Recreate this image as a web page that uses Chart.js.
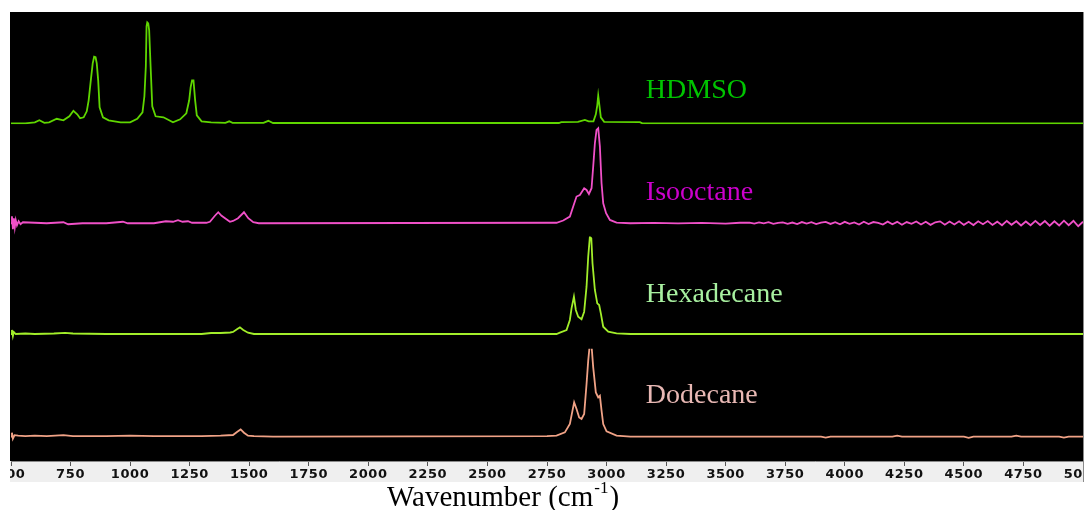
<!DOCTYPE html>
<html>
<head>
<meta charset="utf-8">
<title>IR spectra</title>
<script src="https://cdn.jsdelivr.net/npm/chart.js@4/dist/chart.umd.min.js"></script>
<style>
  html, body { margin: 0; padding: 0; background: #ffffff; }
  #wrap { width: 1086px; height: 510px; }
</style>
</head>
<body>
<div id="wrap"><canvas id="spec" width="1086" height="510"></canvas></div>
<script>
// Wavenumber axis (cm-1)
const xMin = 500;
const xMax = 5000;
const xStep = 250;

// Sample names, top to bottom
const names = ['HDMSO', 'Isooctane', 'Hexadecane', 'Dodecane'];

// HDMSO spectrum: wavenumber / intensity (a.u.)
const hdmsoWn = [500, 560, 600, 619, 640, 660, 692, 720, 745, 762, 778, 790, 805, 818, 826, 835, 843, 849, 855, 860, 866, 872, 886, 910, 960,
  1000, 1030, 1052, 1060, 1066, 1069, 1072, 1076, 1080, 1086, 1093, 1107, 1140, 1180, 1210, 1236, 1248, 1254, 1260, 1266, 1273, 1280,
  1300, 1340, 1400, 1416, 1430, 1560, 1580, 1600, 2800, 2810, 2880, 2909, 2925, 2945, 2955, 2961, 2965, 2970, 2976, 2990, 3140, 3150, 5000];
const hdmsoVal = [0, 0, 0.01, 0.03, 0.005, 0.01, 0.045, 0.03, 0.07, 0.125, 0.09, 0.05, 0.06, 0.12, 0.23, 0.43, 0.6, 0.665, 0.66, 0.6, 0.43, 0.16, 0.06, 0.03, 0.01,
  0.01, 0.045, 0.11, 0.27, 0.57, 0.97, 1.01, 1.0, 0.93, 0.57, 0.17, 0.07, 0.06, 0.01, 0.04, 0.1, 0.23, 0.36, 0.43, 0.43, 0.23, 0.08,
  0.02, 0.01, 0.005, 0.02, 0.005, 0.005, 0.025, 0.003, 0.003, 0.012, 0.015, 0.034, 0.02, 0.02, 0.09, 0.18, 0.277, 0.18, 0.06, 0.015, 0.012, 0, 0];

// Isooctane spectrum
const isoWn = [500, 504, 508, 512, 516, 520, 525, 532, 540, 550, 600, 650, 720, 740, 800, 900, 970, 990, 1100, 1150, 1180, 1201, 1220, 1243, 1260,
  1320, 1335, 1356, 1370, 1384, 1419, 1432, 1453, 1478, 1496, 1517, 1540, 2790, 2818, 2846, 2860, 2874, 2888, 2906, 2916, 2926, 2937, 2944,
  2951, 2958, 2965, 2972, 2979, 2986, 2998, 3014, 3042, 3100, 3200, 3300, 3400, 3500, 3560,
  3600, 3620, 3640, 3660, 3680, 3700, 3720, 3740, 3760, 3780, 3800, 3820, 3840, 3860, 3880, 3900, 3920, 3940, 3960, 3980,
  4000, 4020, 4040, 4060, 4080, 4100, 4120, 4140, 4160, 4180, 4200, 4220, 4240, 4260, 4280, 4300, 4320, 4340, 4360, 4380,
  4400, 4420, 4440, 4460, 4480, 4500, 4520, 4540, 4560, 4580, 4600, 4620, 4640, 4660, 4680, 4700, 4720, 4740, 4760, 4780,
  4800, 4820, 4840, 4860, 4880, 4900, 4920, 4940, 4960, 4980, 5000];
const isoVal = [0, 0.07, -0.06, 0.05, -0.04, 0.03, -0.02, 0.02, -0.01, 0.01, 0.005, 0, 0.01, -0.01, 0, 0, 0.015, 0, 0, 0.02, 0.015, 0.03, 0.015, 0.02, 0.005,
  0.005, 0.015, 0.075, 0.11, 0.075, 0.015, 0.023, 0.05, 0.11, 0.05, 0.01, 0, 0.005, 0.027, 0.067, 0.167, 0.267, 0.283, 0.35, 0.333, 0.293, 0.35, 0.567,
  0.8, 0.933, 0.95, 0.767, 0.4, 0.2, 0.1, 0.033, 0.007, 0, 0.003, -0.002, 0.004, -0.003, 0.005,
  0.006, -0.004, 0.008, -0.002, 0.01, -0.006, 0.004, 0.009, -0.005, 0.007, -0.008, 0.012, -0.004, 0.01, -0.009, 0.006, 0.013, -0.007, 0.011, -0.01,
  0.014, -0.006, 0.009, -0.012, 0.015, -0.008, 0.012, 0.004, -0.013, 0.016, -0.01, 0.014, -0.015, 0.012, -0.006, 0.018, -0.012, 0.015, -0.016, 0.01,
  0.019, -0.014, 0.017, -0.012, 0.02, -0.016, 0.014, -0.018, 0.02, -0.01, 0.022, -0.017, 0.016, -0.02, 0.023, -0.015, 0.02, -0.022, 0.018, -0.02,
  0.024, -0.018, 0.022, -0.024, 0.02, -0.022, 0.026, -0.02, 0.024, -0.03, 0.015];

// Hexadecane spectrum
const hexWn = [500, 504, 508, 512, 520, 560, 600, 680, 727, 760, 900, 1300, 1340, 1380, 1420, 1432, 1450, 1461, 1475, 1495, 1520, 2790,
  2804, 2832, 2846, 2853, 2863, 2871, 2881, 2895, 2906, 2916, 2923, 2930, 2936, 2941, 2951, 2961, 2969, 2976, 2986, 3007, 3042, 3100, 5000];
const hexVal = [0, 0.04, -0.02, 0.02, 0, 0.005, 0, 0.005, 0.012, 0.005, 0, 0, 0.01, 0.01, 0.015, 0.02, 0.05, 0.066, 0.04, 0.013, 0, 0,
  0.013, 0.04, 0.14, 0.257, 0.373, 0.24, 0.173, 0.147, 0.223, 0.473, 0.773, 0.973, 0.957, 0.707, 0.44, 0.307, 0.29, 0.207, 0.073, 0.023, 0.007, 0, 0];

// Dodecane spectrum
const dodWn = [500, 504, 508, 515, 530, 560, 600, 650, 720, 760, 900, 1000, 1100, 1300, 1380, 1432, 1450, 1464, 1478, 1495, 1520, 1600, 2750,
  2790, 2825, 2846, 2857, 2864, 2874, 2885, 2895, 2906, 2916, 2923, 2930, 2937, 2944, 2955, 2965, 2972, 2979, 2986, 3000, 3042, 3100,
  3900, 3920, 3940, 4200, 4220, 4240, 4500, 4520, 4540, 4700, 4720, 4740, 4900, 4920, 4940, 5000];
const dodVal = [0, 0.04, -0.02, 0.015, 0.01, 0.005, 0.01, 0.005, 0.015, 0.005, 0.005, 0.01, 0.005, 0.005, 0.01, 0.017, 0.05, 0.073, 0.04, 0.01, 0.005, 0, 0.005,
  0.01, 0.043, 0.127, 0.26, 0.343, 0.277, 0.193, 0.177, 0.227, 0.527, 0.76, 0.933, 0.91, 0.693, 0.443, 0.393, 0.41, 0.26, 0.127, 0.053, 0.01, 0,
  0, -0.01, 0, 0, 0.01, 0, 0, -0.012, 0, 0, 0.01, 0, 0, -0.01, 0, 0];

const seriesWn = [hdmsoWn, isoWn, hexWn, dodWn];
const seriesVal = [hdmsoVal, isoVal, hexVal, dodVal];
const lineColors = ['#5fd600', '#f050c8', '#a2ee2a', '#f0a286'];
const nameColors = ['#00c400', '#cc00cc', '#a8f0a0', '#e8b8b4'];

// Each spectrum gets its own band of the plot: a vertically stacked y axis
const axisIds = ['yHdmso', 'yIso', 'yHex', 'yDod'];
const axisRange = [[-0.0095, 1.113], [-0.1325, 0.99], [-0.1475, 0.975], [-0.243, 0.8795]];
const nameLevel = [0.253, 0.233, 0.32, 0.337];

const datasets = names.map((n, i) => ({
  label: n,
  data: seriesWn[i].map((w, k) => ({ x: w, y: seriesVal[i][k] })),
  borderColor: lineColors[i],
  borderWidth: 1.8,
  pointRadius: 0,
  tension: 0,
  yAxisID: axisIds[i]
}));

const scales = {
  x: {
    type: 'linear',
    min: xMin,
    max: xMax,
    position: 'bottom',
    afterFit(scale) { scale.height = 21; scale.paddingLeft = 0; scale.paddingRight = 0; },
    afterBuildTicks(scale) {
      const t = [];
      for (let v = xMin; v <= xMax; v += xStep) t.push({ value: v });
      scale.ticks = t;
    },
    ticks: {
      autoSkip: false,
      maxRotation: 0,
      minRotation: 0,
      padding: 1,
      color: '#111111',
      font: { family: 'DejaVu Sans', size: 13, weight: 'bold' },
      callback: v => String(v)
    },
    grid: { display: true, drawOnChartArea: false, drawTicks: true, tickLength: 5, color: '#555555', tickColor: '#555555' },
    border: { display: true, color: '#8a8a8a', width: 1 }
  }
};
// stacked axes are laid out bottom-up, so the lowest band is declared first
axisIds.slice().reverse().forEach(id => {
  const i = axisIds.indexOf(id);
  scales[id] = {
    type: 'linear',
    position: 'left',
    stack: 'bands',
    stackWeight: 1,
    offset: false,
    min: axisRange[i][0],
    max: axisRange[i][1],
    display: true,
    afterFit(scale) { scale.width = 0; },
    ticks: { display: false },
    grid: { display: false, drawTicks: false },
    border: { display: false }
  };
});

// Page, plot and tick strip backgrounds
const backdrop = {
  id: 'backdrop',
  beforeDraw(chart) {
    const { ctx, chartArea: a } = chart;
    ctx.save();
    ctx.fillStyle = '#ffffff';
    ctx.fillRect(0, 0, chart.width, chart.height);
    ctx.fillStyle = '#000000';
    ctx.fillRect(a.left - 1, a.top, a.right - a.left + 2, a.bottom - a.top);
    ctx.fillStyle = '#efefef';
    ctx.fillRect(a.left - 1, a.bottom, a.right - a.left + 2, 21);
    ctx.restore();
    ctx.letterSpacing = '0.6px';
  },
  afterDraw(chart) {
    const { ctx, chartArea: a } = chart;
    ctx.save();
    ctx.letterSpacing = '0px';
    // trim tick labels to the strip
    ctx.fillStyle = '#ffffff';
    ctx.fillRect(0, a.bottom, a.left - 1, 22);
    ctx.fillRect(a.right + 1, a.bottom, chart.width - a.right, 22);
    // right frame edge
    ctx.strokeStyle = '#8a8a8a';
    ctx.lineWidth = 1;
    ctx.beginPath();
    ctx.moveTo(a.right + 0.5, a.top);
    ctx.lineTo(a.right + 0.5, a.bottom + 21);
    ctx.stroke();
    // axis title with superscript
    ctx.fillStyle = '#000000';
    ctx.textBaseline = 'alphabetic';
    ctx.textAlign = 'left';
    const x0 = 387, base = 506;
    ctx.font = '29px "Liberation Serif"';
    const main = 'Wavenumber (cm';
    ctx.fillText(main, x0, base);
    let x = x0 + ctx.measureText(main).width + 1;
    ctx.font = '17px "Liberation Serif"';
    ctx.fillText('-1', x, base - 13);
    x += ctx.measureText('-1').width + 1;
    ctx.font = '29px "Liberation Serif"';
    ctx.fillText(')', x, base);
    ctx.restore();
  }
};

// Sample names placed beside the spectra
const nameTags = {
  id: 'nameTags',
  afterDatasetsDraw(chart) {
    const { ctx } = chart;
    ctx.save();
    ctx.letterSpacing = '0px';
    ctx.font = '28px "Liberation Serif"';
    ctx.textAlign = 'left';
    ctx.textBaseline = 'alphabetic';
    const xs = chart.scales.x.getPixelForValue(3165);
    names.forEach((n, i) => {
      ctx.fillStyle = nameColors[i];
      ctx.fillText(n, xs, chart.scales[axisIds[i]].getPixelForValue(nameLevel[i]));
    });
    ctx.restore();
  }
};

new Chart(document.getElementById('spec'), {
  type: 'line',
  data: { datasets },
  options: {
    responsive: false,
    animation: false,
    layout: { padding: { top: 12, left: 11, right: 3, bottom: 28 } },
    plugins: { legend: { display: false }, tooltip: { enabled: false }, title: { display: false } },
    scales
  },
  plugins: [backdrop, nameTags]
});
</script>
</body>
</html>
